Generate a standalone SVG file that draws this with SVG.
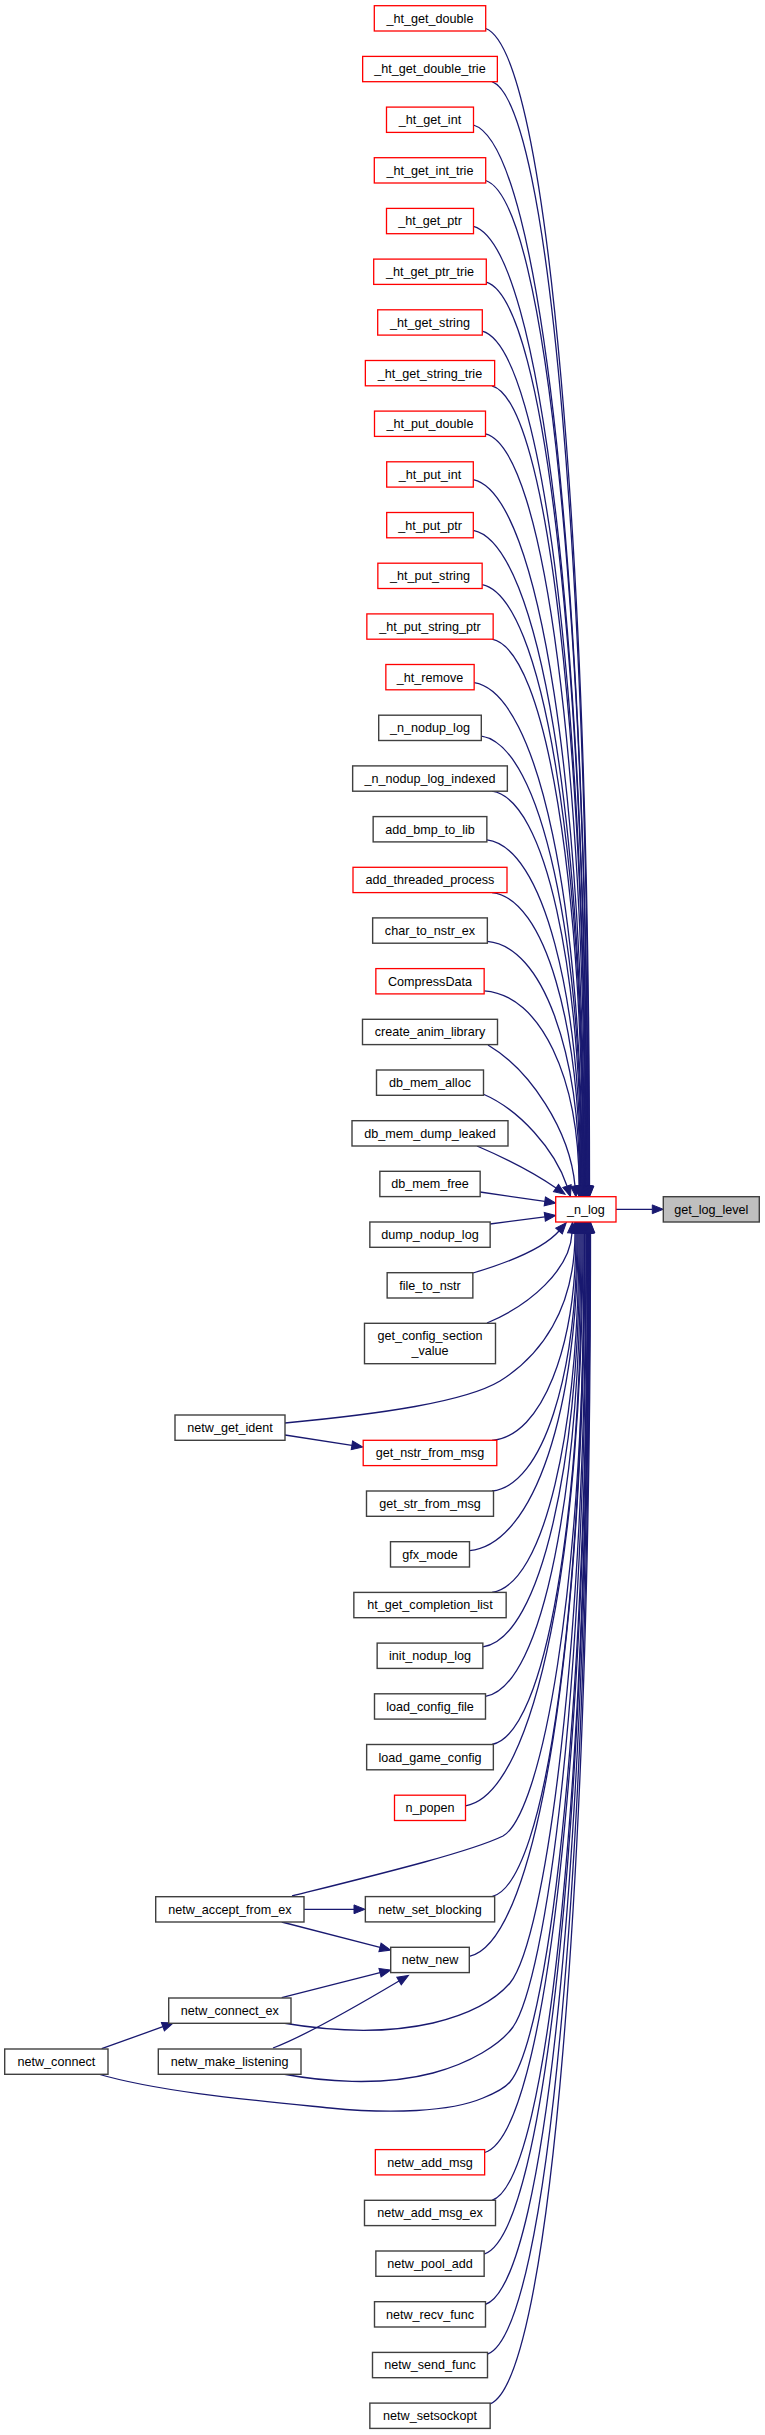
<svg xmlns="http://www.w3.org/2000/svg" width="765" height="2435" viewBox="0 0 765 2435">
<style>
.n rect{fill:#fff;stroke:#404040;stroke-width:1.4}
.n.r rect{stroke:#ff0000;stroke-width:1.3}
.n.g rect{fill:#bfbfbf}
text{font-family:"Liberation Sans",Arial,Helvetica,sans-serif;font-size:12.6px;text-anchor:middle;fill:#000}
.e path{fill:none;stroke:#191970;stroke-width:1.3;marker-end:url(#a)}
</style>
<defs>
<marker id="a" viewBox="0 0 11 10" refX="0" refY="5" markerWidth="11" markerHeight="10" markerUnits="userSpaceOnUse" orient="auto" overflow="visible"><path d="M0,0.6 L11,5 L0,9.4 z" fill="#191970" stroke="#191970" stroke-width="1"/></marker>
</defs>
<rect width="765" height="2435" fill="#fff"/>
<g id="edges" class="e">
<path d="M485.7,28.5 C548,51.6 589.5,549.4 589.5,1186"/>
<path d="M492,81.7 C550.2,103.8 588.95,578.6 588.95,1186"/>
<path d="M473.5,125 C542.4,146.2 588.4,602.5 588.4,1186"/>
<path d="M485.7,180.5 C547,200.6 587.85,633 587.85,1186"/>
<path d="M473.5,226.3 C541.8,245.5 587.3,658.2 587.3,1186"/>
<path d="M486.3,282.1 C546.6,300.2 586.75,688.9 586.75,1186"/>
<path d="M482.3,331.2 C544.6,348.3 586.2,715.9 586.2,1186"/>
<path d="M492,385.8 C548.2,401.8 585.65,745.9 585.65,1186"/>
<path d="M485.5,433.8 C545.3,448.8 585.1,772.3 585.1,1186"/>
<path d="M473.3,479.6 C540.05,493.7 584.55,797.5 584.55,1186"/>
<path d="M473.3,530.3 C539.7,543.4 584,825.4 584,1186"/>
<path d="M482.15,584.6 C542.9,596.6 583.45,855.2 583.45,1186"/>
<path d="M492,639.2 C546.5,650.1 582.9,885.3 582.9,1186"/>
<path d="M474.15,682.7 C539.1,692.8 582.35,909.2 582.35,1186"/>
<path d="M481.3,736.2 C541.6,745.2 581.8,938.6 581.8,1186"/>
<path d="M492,791.2 C545.55,799.1 581.25,968.9 581.25,1186"/>
<path d="M486.85,839.8 C543.2,846.7 580.7,995.6 580.7,1186"/>
<path d="M492,892.6 C544.9,898.5 580.15,1024.6 580.15,1186"/>
<path d="M487.35,941.4 C542.7,946.3 579.6,1051.5 579.6,1186"/>
<path d="M484.15,990.8 C541.1,994.7 579.05,1078.6 579.05,1186"/>
<path d="M488,1045 C530,1070 570,1130 575,1186"/>
<path d="M483,1094 C520,1110 555,1150 567,1186"/>
<path d="M477,1146 C505,1158 530,1170 556,1188"/>
<path d="M480,1192 L544.8,1201.4"/>
<path d="M490,1224 L544.8,1216.9"/>
<path d="M473,1273 C510,1262 545,1247 559,1231"/>
<path d="M487,1323 C530,1305 570,1270 572,1233"/>
<path d="M285,1423 C380,1414 465,1402 500,1381 C540,1356 575,1310 575,1233"/>
<path d="M285,1435 L351.9,1445.3"/>
<path d="M492,1440.3 C542.4,1436.2 576,1347 576,1233"/>
<path d="M492,1491 C543,1485.8 577,1374.9 577,1233"/>
<path d="M469.5,1550.7 C534.6,1544.3 578,1407.7 578,1233"/>
<path d="M492,1592.4 C544.2,1585.2 579,1430.7 579,1233"/>
<path d="M482.85,1646.8 C541.1,1638.5 580,1460.6 580,1233"/>
<path d="M485.5,1696.4 C542.8,1687.1 581,1487.9 581,1233"/>
<path d="M492,1744.5 C546,1734.3 582,1514.3 582,1233"/>
<path d="M465.5,1805.8 C536,1794.3 583,1548 583,1233"/>
<path d="M292,1896 C380,1874 470,1852 503,1836 C540,1815 584.5,1600 584.5,1233"/>
<path d="M304,1909.3 L354,1909.3"/>
<path d="M281.7,1922 L380,1947.3"/>
<path d="M492,1896.6 C547.2,1883.3 584,1598 584,1233"/>
<path d="M469.3,1956.4 C538.7,1941.9 585,1630.9 585,1233"/>
<path d="M281.7,1997.7 L380,1972.7"/>
<path d="M283,2023 C330,2031 385,2034 433,2023 C475,2013 497,1998 510,1983 C545,1940 586,1650 586,1233"/>
<path d="M273,2048 C300,2038 340,2016 399,1981"/>
<path d="M283,2074 C320,2081 380,2087 433,2073 C470,2063 500,2045 513,2027 C545,1980 586.5,1700 586.5,1233"/>
<path d="M101.7,2048.7 L162.9,2026.7"/>
<path d="M98,2074 C160,2092 250,2100 330,2108 C390,2114 450,2112 483,2098 C498,2092 505,2088 510,2082 C545,2040 587.5,1750 587.5,1233"/>
<path d="M484.65,2152.5 C546.7,2134.1 588,1738.7 588,1233"/>
<path d="M492,2200.3 C549.9,2181 588.5,1765 588.5,1233"/>
<path d="M484.15,2254.1 C547.05,2233.7 589,1794.6 589,1233"/>
<path d="M485.5,2304.3 C547.9,2282.9 589.5,1822.2 589.5,1233"/>
<path d="M487.5,2354.2 C549,2331.8 590,1849.7 590,1233"/>
<path d="M490.15,2403.8 C550.4,2380.4 590.5,1877 590.5,1233"/>
<path d="M616,1209.3 L652.3,1209.3"/>
</g>
<g id="node-get_log_level" class="n g"><rect x="663.3" y="1196.7" width="96" height="25.3"/><text x="711.3" y="1213.75">get_log_level</text></g>
<g id="node-_n_log" class="n r"><rect x="555.7" y="1196.7" width="60.3" height="25.3"/><text x="585.85" y="1213.75">_n_log</text></g>
<g id="node-_ht_get_double" class="n r"><rect x="374.3" y="5.7" width="111.4" height="25.3"/><text x="430" y="22.75">_ht_get_double</text></g>
<g id="node-_ht_get_double_trie" class="n r"><rect x="362.65" y="56.4" width="134.7" height="25.3"/><text x="430" y="73.45">_ht_get_double_trie</text></g>
<g id="node-_ht_get_int" class="n r"><rect x="386.5" y="107.1" width="87" height="25.3"/><text x="430" y="124.15">_ht_get_int</text></g>
<g id="node-_ht_get_int_trie" class="n r"><rect x="374.3" y="157.7" width="111.4" height="25.3"/><text x="430" y="174.75">_ht_get_int_trie</text></g>
<g id="node-_ht_get_ptr" class="n r"><rect x="386.5" y="208.4" width="87" height="25.3"/><text x="430" y="225.45">_ht_get_ptr</text></g>
<g id="node-_ht_get_ptr_trie" class="n r"><rect x="373.7" y="259.1" width="112.6" height="25.3"/><text x="430" y="276.15">_ht_get_ptr_trie</text></g>
<g id="node-_ht_get_string" class="n r"><rect x="377.7" y="309.8" width="104.6" height="25.3"/><text x="430" y="326.85">_ht_get_string</text></g>
<g id="node-_ht_get_string_trie" class="n r"><rect x="365.35" y="360.5" width="129.3" height="25.3"/><text x="430" y="377.55">_ht_get_string_trie</text></g>
<g id="node-_ht_put_double" class="n r"><rect x="374.5" y="411.1" width="111" height="25.3"/><text x="430" y="428.15">_ht_put_double</text></g>
<g id="node-_ht_put_int" class="n r"><rect x="386.7" y="461.8" width="86.6" height="25.3"/><text x="430" y="478.85">_ht_put_int</text></g>
<g id="node-_ht_put_ptr" class="n r"><rect x="386.7" y="512.5" width="86.6" height="25.3"/><text x="430" y="529.55">_ht_put_ptr</text></g>
<g id="node-_ht_put_string" class="n r"><rect x="377.85" y="563.2" width="104.3" height="25.3"/><text x="430" y="580.25">_ht_put_string</text></g>
<g id="node-_ht_put_string_ptr" class="n r"><rect x="366.85" y="613.9" width="126.3" height="25.3"/><text x="430" y="630.95">_ht_put_string_ptr</text></g>
<g id="node-_ht_remove" class="n r"><rect x="385.85" y="664.5" width="88.3" height="25.3"/><text x="430" y="681.55">_ht_remove</text></g>
<g id="node-_n_nodup_log" class="n"><rect x="378.7" y="715.2" width="102.6" height="25.3"/><text x="430" y="732.25">_n_nodup_log</text></g>
<g id="node-_n_nodup_log_indexed" class="n"><rect x="352.65" y="765.9" width="154.7" height="25.3"/><text x="430" y="782.95">_n_nodup_log_indexed</text></g>
<g id="node-add_bmp_to_lib" class="n"><rect x="373.15" y="816.6" width="113.7" height="25.3"/><text x="430" y="833.65">add_bmp_to_lib</text></g>
<g id="node-add_threaded_process" class="n r"><rect x="353" y="867.3" width="154" height="25.3"/><text x="430" y="884.35">add_threaded_process</text></g>
<g id="node-char_to_nstr_ex" class="n"><rect x="372.65" y="917.9" width="114.7" height="25.3"/><text x="430" y="934.95">char_to_nstr_ex</text></g>
<g id="node-CompressData" class="n r"><rect x="375.85" y="968.6" width="108.3" height="25.3"/><text x="430" y="985.65">CompressData</text></g>
<g id="node-create_anim_library" class="n"><rect x="362.5" y="1019.3" width="135" height="25.3"/><text x="430" y="1036.35">create_anim_library</text></g>
<g id="node-db_mem_alloc" class="n"><rect x="376.5" y="1070" width="107" height="25.3"/><text x="430" y="1087.05">db_mem_alloc</text></g>
<g id="node-db_mem_dump_leaked" class="n"><rect x="352" y="1120.7" width="156" height="25.3"/><text x="430" y="1137.75">db_mem_dump_leaked</text></g>
<g id="node-db_mem_free" class="n"><rect x="379.85" y="1171.3" width="100.3" height="25.3"/><text x="430" y="1188.35">db_mem_free</text></g>
<g id="node-dump_nodup_log" class="n"><rect x="369.85" y="1222" width="120.3" height="25.3"/><text x="430" y="1239.05">dump_nodup_log</text></g>
<g id="node-file_to_nstr" class="n"><rect x="387.15" y="1272.7" width="85.7" height="25.3"/><text x="430" y="1289.75">file_to_nstr</text></g>
<g id="node-get_config_section_value" class="n"><rect x="364.5" y="1323.3" width="131" height="40.4"/><text x="430" y="1340">get_config_section</text><text x="430" y="1355">_value</text></g>
<g id="node-netw_get_ident" class="n"><rect x="175" y="1415" width="110" height="25.3"/><text x="230" y="1432.05">netw_get_ident</text></g>
<g id="node-get_nstr_from_msg" class="n r"><rect x="363.2" y="1440.3" width="133.6" height="25.3"/><text x="430" y="1457.35">get_nstr_from_msg</text></g>
<g id="node-get_str_from_msg" class="n"><rect x="366.5" y="1491" width="127" height="25.3"/><text x="430" y="1508.05">get_str_from_msg</text></g>
<g id="node-gfx_mode" class="n"><rect x="390.5" y="1541.7" width="79" height="25.3"/><text x="430" y="1558.75">gfx_mode</text></g>
<g id="node-ht_get_completion_list" class="n"><rect x="353.85" y="1592.4" width="152.3" height="25.3"/><text x="430" y="1609.45">ht_get_completion_list</text></g>
<g id="node-init_nodup_log" class="n"><rect x="377.15" y="1643.1" width="105.7" height="25.3"/><text x="430" y="1660.15">init_nodup_log</text></g>
<g id="node-load_config_file" class="n"><rect x="374.5" y="1693.8" width="111" height="25.3"/><text x="430" y="1710.85">load_config_file</text></g>
<g id="node-load_game_config" class="n"><rect x="366.65" y="1744.5" width="126.7" height="25.3"/><text x="430" y="1761.55">load_game_config</text></g>
<g id="node-n_popen" class="n r"><rect x="394.5" y="1795.2" width="71" height="25.3"/><text x="430" y="1812.25">n_popen</text></g>
<g id="node-netw_accept_from_ex" class="n"><rect x="155.7" y="1896.7" width="148.3" height="25.3"/><text x="229.85" y="1913.75">netw_accept_from_ex</text></g>
<g id="node-netw_set_blocking" class="n"><rect x="365.35" y="1896.6" width="129.3" height="25.3"/><text x="430" y="1913.65">netw_set_blocking</text></g>
<g id="node-netw_new" class="n"><rect x="390.7" y="1947.3" width="78.6" height="25.3"/><text x="430" y="1964.35">netw_new</text></g>
<g id="node-netw_connect_ex" class="n"><rect x="168.7" y="1998" width="122.3" height="25.3"/><text x="229.85" y="2015.05">netw_connect_ex</text></g>
<g id="node-netw_connect" class="n"><rect x="4.7" y="2049" width="103.3" height="25.3"/><text x="56.35" y="2066.05">netw_connect</text></g>
<g id="node-netw_make_listening" class="n"><rect x="158.3" y="2049" width="142.7" height="25.3"/><text x="229.65" y="2066.05">netw_make_listening</text></g>
<g id="node-netw_add_msg" class="n r"><rect x="375.35" y="2149.6" width="109.3" height="25.3"/><text x="430" y="2166.65">netw_add_msg</text></g>
<g id="node-netw_add_msg_ex" class="n"><rect x="364.5" y="2200.3" width="131" height="25.3"/><text x="430" y="2217.35">netw_add_msg_ex</text></g>
<g id="node-netw_pool_add" class="n"><rect x="375.85" y="2251" width="108.3" height="25.3"/><text x="430" y="2268.05">netw_pool_add</text></g>
<g id="node-netw_recv_func" class="n"><rect x="374.5" y="2301.7" width="111" height="25.3"/><text x="430" y="2318.75">netw_recv_func</text></g>
<g id="node-netw_send_func" class="n"><rect x="372.5" y="2352.4" width="115" height="25.3"/><text x="430" y="2369.45">netw_send_func</text></g>
<g id="node-netw_setsockopt" class="n"><rect x="369.85" y="2403.1" width="120.3" height="25.3"/><text x="430" y="2420.15">netw_setsockopt</text></g>
</svg>
